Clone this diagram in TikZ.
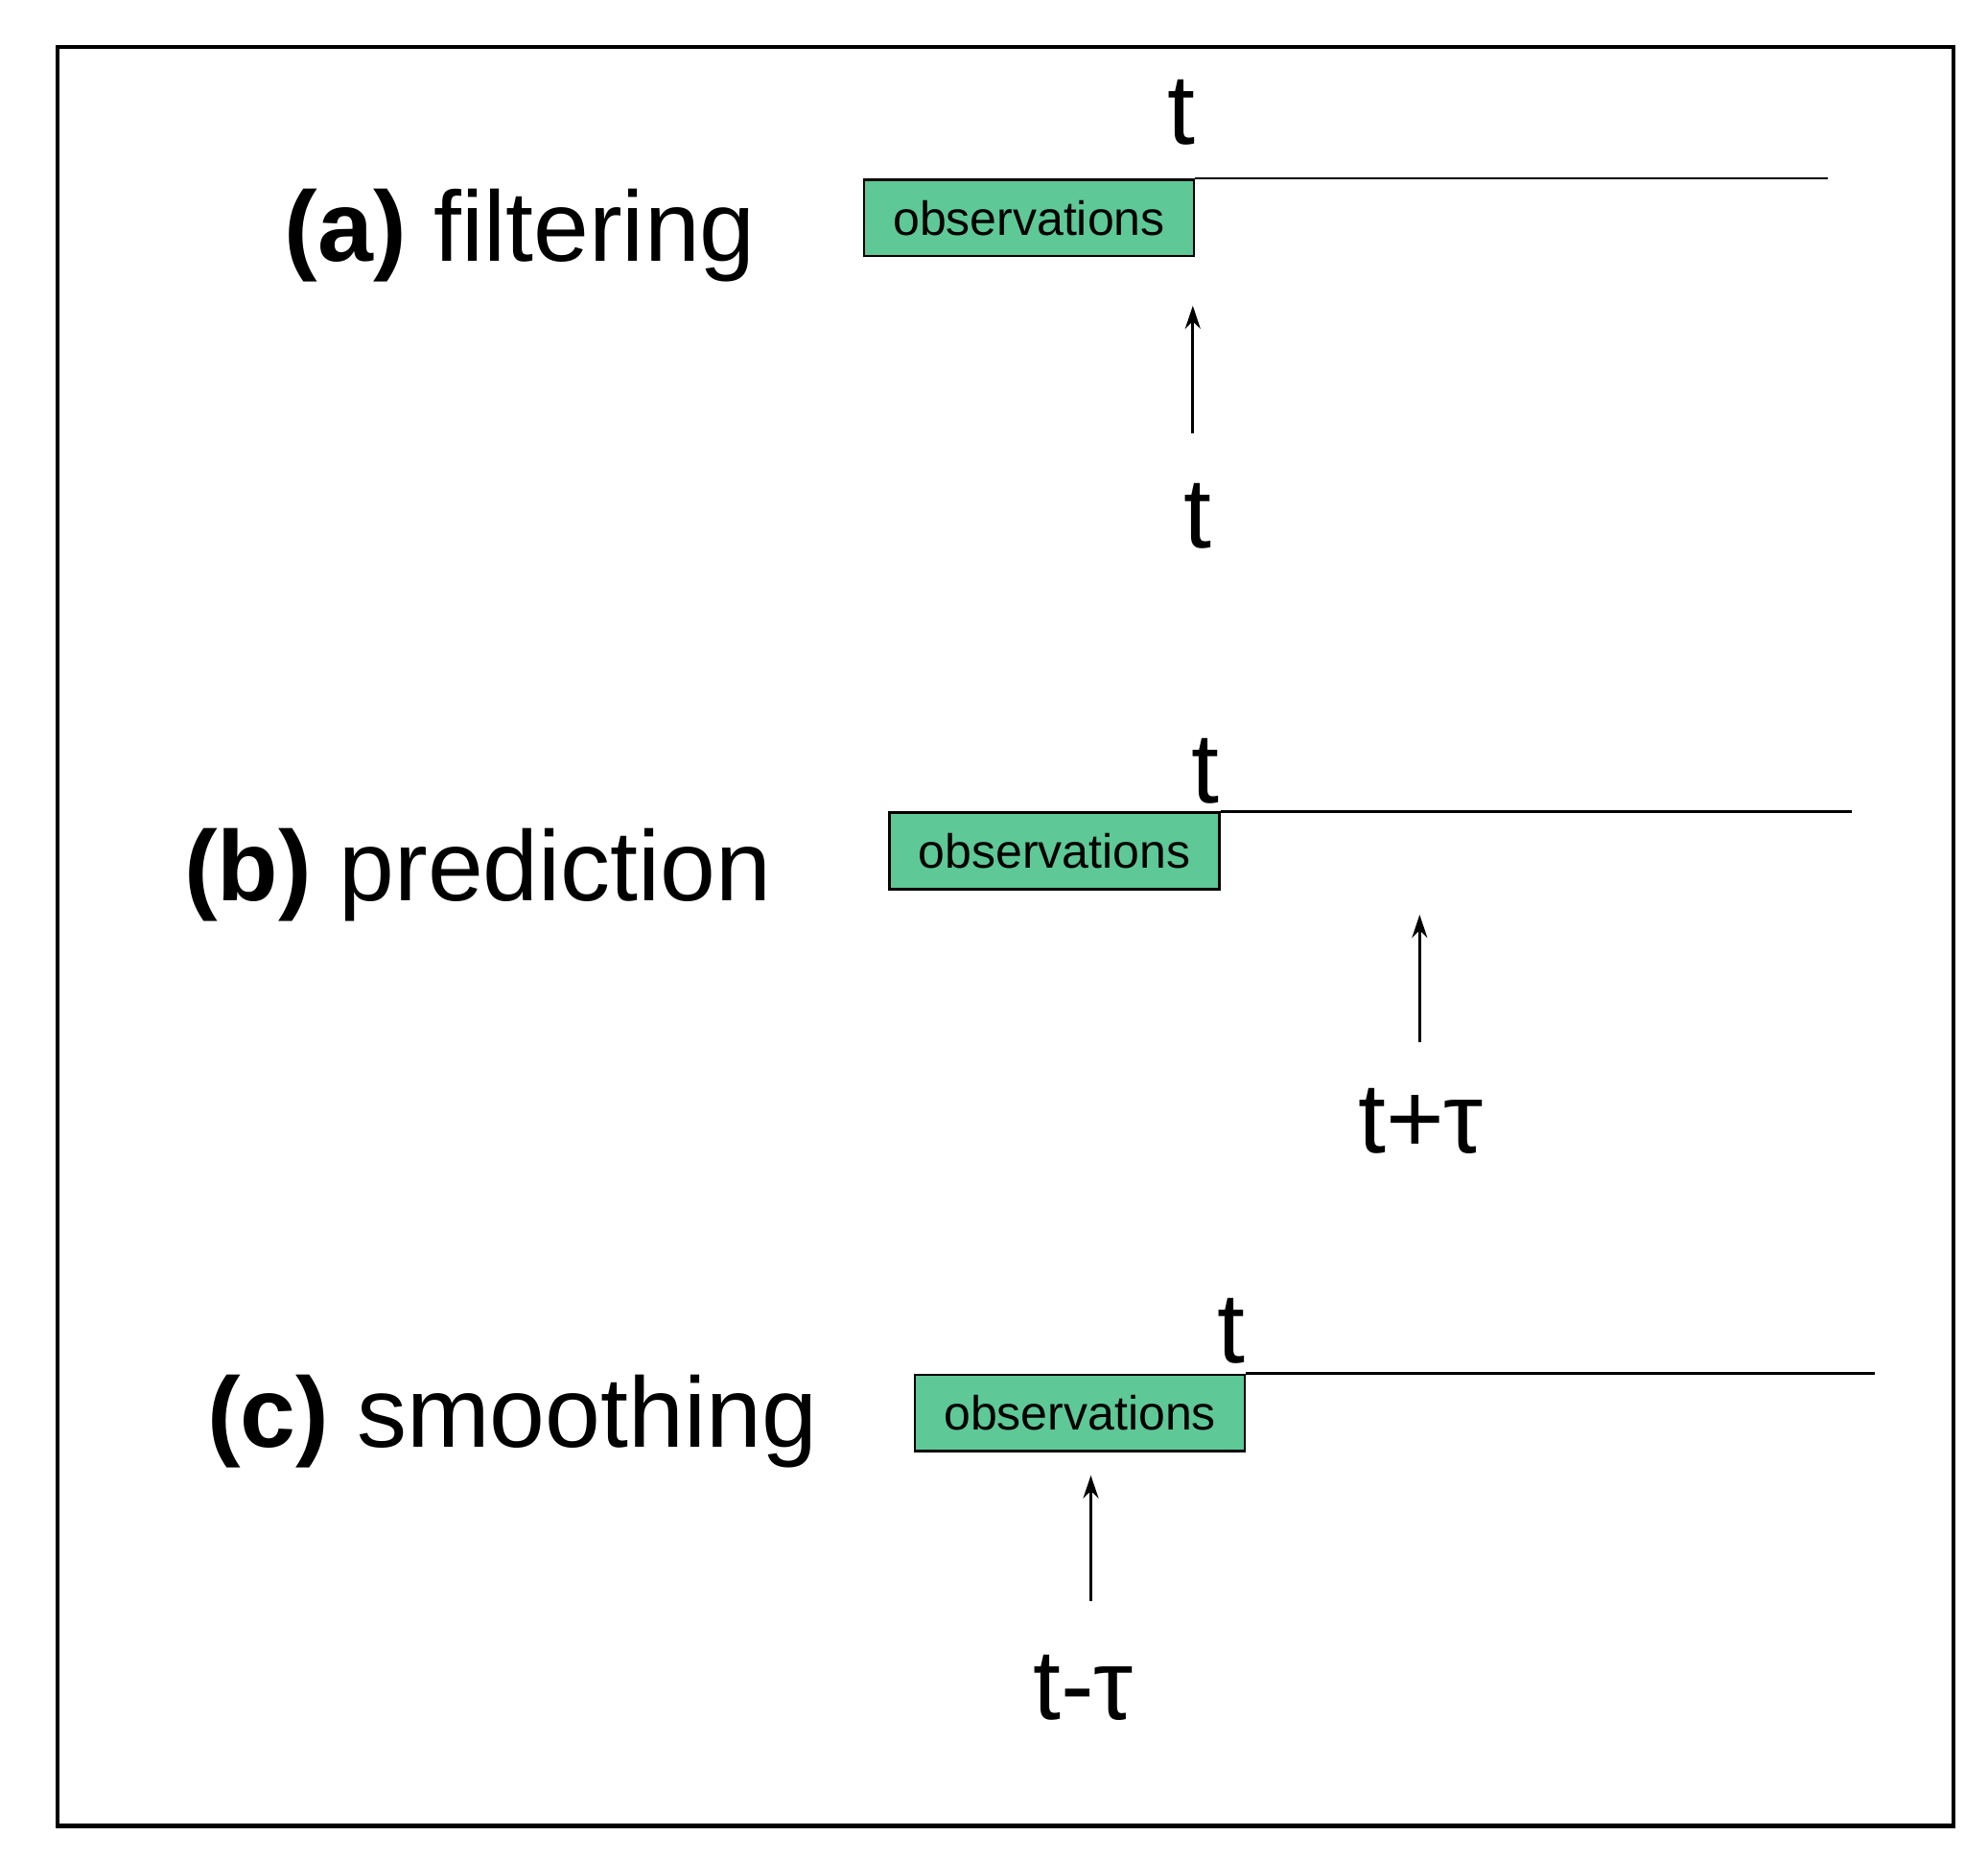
\documentclass[tikz,border=0pt]{standalone}
\usepackage{fontspec}
\setmainfont{Liberation Sans}
\usetikzlibrary{arrows.meta}
\definecolor{obsgreen}{RGB}{94,200,150}
\begin{document}
\begin{tikzpicture}[x=1.329pt,y=-1.329pt,
  big/.style={font=\fontsize{104}{110}\selectfont,inner sep=0pt},
  obs/.style={draw=black,line width=2.5pt,fill=obsgreen,minimum width=259*1.329pt,minimum height=60*1.329pt,inner sep=0pt,font=\fontsize{50}{54}\selectfont},
  ln/.style={line width=2.5pt},
  arr/.style={line width=3pt,-{Stealth[length=24pt,width=16pt]}}]
\useasboundingbox (0,0) rectangle (1560,1459);
\draw[line width=4.5pt] (45,37) rectangle (1533,1433);
% (a)
\node[big,anchor=base] (la) at (408,205) {\textbf{(a)} filtering};
\node[obs,anchor=north west] (oa) at (677,140) {observations};
\coordinate (ea) at (1434,140);
\draw[ln] (oa.north east) -- (ea);
\node[big] (ta) at (927,88) {t};
\coordinate (sa) at (936,340);
\node[big] (ba) at (940,405) {t};
\draw[arr] (sa) -- (936,240);
% (b)
\node[big,anchor=base] (lb) at (375,707) {\textbf{(b)} prediction};
\node[obs,anchor=north west] (ob) at (697,637) {observations};
\coordinate (eb) at (1453,637);
\draw[ln] (ob.north east) -- (eb);
\node[big] (tb) at (946,605) {t};
\coordinate (sb) at (1114,818);
\draw[arr] (sb) -- (1114,718);
\node[big] (bb) at (1115,880) {t+τ};
% (c)
\node[big,anchor=base] (lc) at (402,1136) {\textbf{(c)} smoothing};
\node[obs,anchor=north west] (oc) at (717,1078) {observations};
\coordinate (ec) at (1471,1078);
\draw[ln] (oc.north east) -- (ec);
\node[big] (tc) at (966,1045) {t};
\coordinate (sc) at (856,1257);
\draw[arr] (sc) -- (856,1158);
\node[big] (bc) at (850,1325) {t-τ};
\end{tikzpicture}
\end{document}
